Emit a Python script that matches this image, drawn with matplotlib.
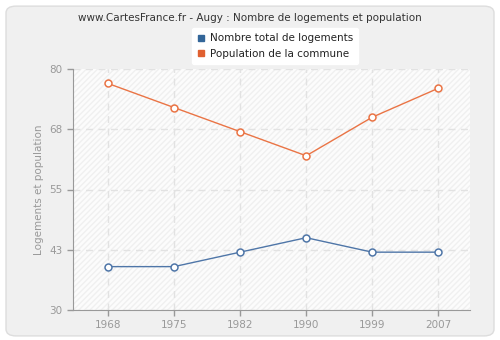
import matplotlib.pyplot as plt
from matplotlib.patches import FancyBboxPatch, Rectangle
from matplotlib.lines import Line2D

years = ['1968', '1975', '1982', '1990', '1999', '2007']
logements = [39, 39, 42, 45, 42, 42]
population = [77, 72, 67, 62, 70, 76]
yticks = [30, 42.5, 55, 67.5, 80]
ytick_labels = ['30', '43', '55', '68', '80']

blue = '#4f76a8'
orange = '#ea7445'
grey = '#999999'

fig = plt.figure(figsize=(5, 3.4), dpi=100)
fig.patch.set_facecolor('white')
# outer rounded panel
fig.patches.append(FancyBboxPatch((0.012, 0.012), 0.976, 0.97, boxstyle='round,pad=0,rounding_size=0.02',
                                  transform=fig.transFigure, facecolor='#f0f0f0', edgecolor='#dddddd',
                                  linewidth=1, zorder=-10))

ax = fig.add_axes([73 / 500, 30 / 340, 397 / 500, 241 / 340], zorder=5)
ax.set_facecolor('#fcfcfc')
ax.add_patch(Rectangle((0, 0), 1, 1, transform=ax.transAxes, facecolor='none',
                       edgecolor='#f0f0f0', hatch='//////', linewidth=0, zorder=0))

x = range(len(years))
ax.plot(x, logements, color=blue, linewidth=1, marker='o', markersize=5,
        markerfacecolor='white', markeredgecolor=blue, markeredgewidth=1.1, zorder=3)
ax.plot(x, population, color=orange, linewidth=1, marker='o', markersize=5,
        markerfacecolor='white', markeredgecolor=orange, markeredgewidth=1.1, zorder=3)

ax.set_xlim(-0.53, 5.48)
ax.set_ylim(30, 80)
ax.set_xticks(list(x))
ax.set_xticklabels(years)
ax.set_yticks(yticks)
ax.set_yticklabels(ytick_labels)
ax.grid(True, color='#e2e2e2', linestyle=(0, (5, 4)), linewidth=1)
ax.set_axisbelow(True)

for side in ['top', 'right']:
    ax.spines[side].set_visible(False)
for side in ['left', 'bottom']:
    ax.spines[side].set_color(grey)
ax.tick_params(colors=grey, labelsize=7.5, length=4, width=1, labelcolor='#999999')
ax.set_ylabel('Logements et population', fontsize=7.5, color='#999999')

fig.text(0.5, 1 - 18 / 340, 'www.CartesFrance.fr - Augy : Nombre de logements et population',
         ha='center', va='center', fontsize=7.5, color='#333333')

handles = [Line2D([], [], marker='s', color='none', markerfacecolor=c, markeredgecolor=c, markersize=5)
           for c in ['#336699', '#e06030']]
leg = fig.legend(handles, ['Nombre total de logements', 'Population de la commune'], loc='center',
                 bbox_to_anchor=(275 / 500, 1 - 46 / 340), fontsize=7.5, frameon=True, fancybox=True,
                 handlelength=0.8, handletextpad=0.4, labelspacing=0.5, borderpad=0.5, framealpha=1)
leg.get_frame().set_edgecolor('white')
leg.get_frame().set_facecolor('white')
for t in leg.get_texts():
    t.set_color('#222222')

fig.savefig('out.png', dpi=100)
